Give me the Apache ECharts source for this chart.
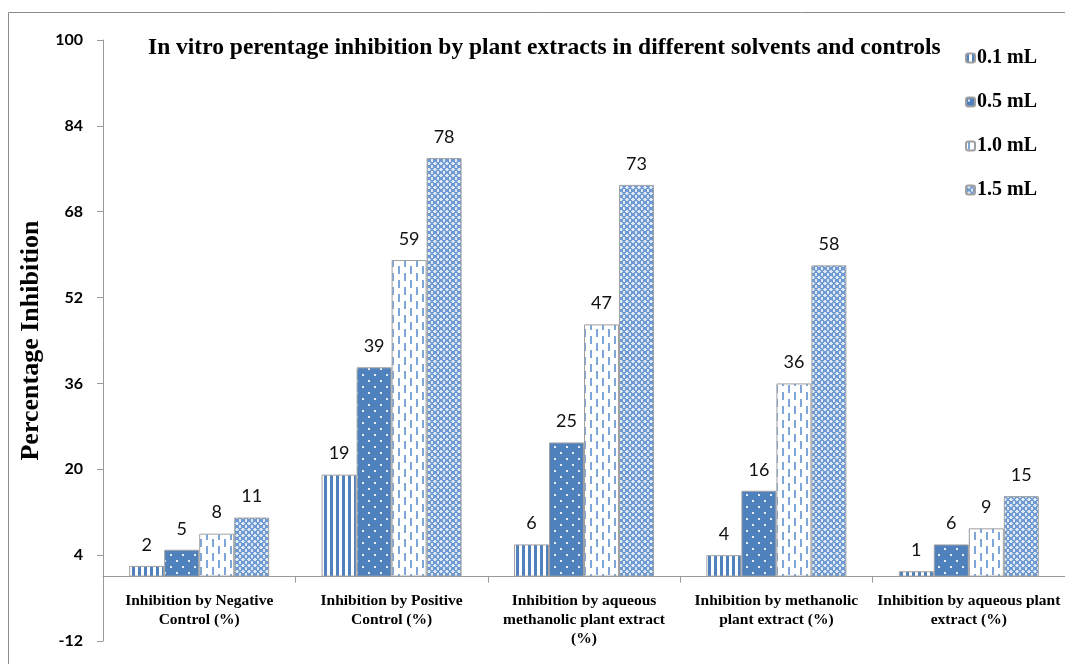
<!DOCTYPE html>
<html>
<head>
<meta charset="utf-8">
<script src="https://cdn.jsdelivr.net/npm/echarts@6/dist/echarts.min.js"></script>
<style>
  html, body { margin: 0; padding: 0; background: #fff; }
  #chart { width: 1065px; height: 664px; }
</style>
</head>
<body>
<div id="chart"></div>
<script>
var categories = [
  'Inhibition by Negative\nControl (%)',
  'Inhibition by Positive\nControl (%)',
  'Inhibition by aqueous\nmethanolic plant extract\n(%)',
  'Inhibition by methanolic\nplant extract (%)',
  'Inhibition by aqueous plant\nextract (%)'
];
var seriesNames = ['0.1 mL', '0.5 mL', '1.0 mL', '1.5 mL'];
var vol01 = [2, 19, 6, 4, 1];
var vol05 = [5, 39, 25, 16, 6];
var vol10 = [8, 59, 47, 36, 9];
var vol15 = [11, 78, 73, 58, 15];
var yTicks = [-12, 4, 20, 36, 52, 68, 84, 100];

// little canvas tiles for the fill patterns
function tile(w, h, draw) {
  var c = document.createElement('canvas');
  c.width = w; c.height = h;
  var ctx = c.getContext('2d');
  draw(ctx);
  return { image: c, repeat: 'repeat' };
}
var blue = '#4f81bd';
var pStripes = tile(6, 6, function (ctx) {
  ctx.fillStyle = '#fff'; ctx.fillRect(0, 0, 6, 6);
  ctx.fillStyle = blue; ctx.fillRect(0, 0, 3, 6);
});
var pDots = tile(12, 12, function (ctx) {
  ctx.fillStyle = blue; ctx.fillRect(0, 0, 12, 12);
  ctx.fillStyle = '#e8eef8';
  ctx.fillRect(2, 2, 2, 2);
  ctx.fillRect(8, 8, 2, 2);
});
var pDashes = tile(12, 14, function (ctx) {
  ctx.fillStyle = '#fff'; ctx.fillRect(0, 0, 12, 14);
  ctx.fillStyle = '#7ea6d8';
  ctx.fillRect(2, 0, 2, 8);
  ctx.fillRect(8, 7, 2, 7);
  ctx.fillRect(8, 0, 2, 1);
});
var pCross = tile(6, 6, function (ctx) {
  ctx.fillStyle = '#6f9bd2'; ctx.fillRect(0, 0, 6, 6);
  ctx.fillStyle = '#dfe8f5';
  ctx.fillRect(2, 0, 2, 1); ctx.fillRect(1, 1, 4, 1); ctx.fillRect(2, 2, 2, 1);
  ctx.fillRect(5, 3, 1, 1); ctx.fillRect(0, 3, 1, 1);
  ctx.fillRect(5, 4, 1, 1); ctx.fillRect(0, 4, 1, 1);
  ctx.fillRect(5, 5, 1, 1); ctx.fillRect(0, 5, 1, 1);
});
var fills = [pStripes, pDots, pDashes, pCross];
var values = [vol01, vol05, vol10, vol15];

var chart = echarts.init(document.getElementById('chart'));

var series = seriesNames.map(function (name, i) {
  return {
    name: name,
    type: 'bar',
    data: values[i],
    barWidth: 35,
    barGap: '0%',
    itemStyle: { color: fills[i], borderColor: '#a0a0a0', borderWidth: 1 },
    label: {
      show: true,
      position: 'top',
      distance: 12,
      color: '#111',
      fontFamily: 'Lato',
      fontSize: 18
    }
  };
});

var option = {
  backgroundColor: '#fff',
  animation: false,
  title: {
    text: 'In vitro perentage inhibition by plant extracts in different solvents and controls',
    left: 143,
    top: 31,
    textStyle: {
      fontFamily: '"Liberation Serif", serif',
      fontWeight: 'bold',
      fontSize: 23.5,
      color: '#000'
    }
  },
  legend: {
    orient: 'vertical',
    left: 960,
    top: 43,
    itemWidth: 9,
    itemHeight: 9,
    itemGap: 24,
    data: seriesNames,
    textStyle: {
      fontFamily: '"Liberation Serif", serif',
      fontWeight: 'bold',
      fontSize: 20,
      color: '#000',
      padding: [0, 0, 0, -3]
    }
  },
  graphic: [{
    type: 'rect',
    shape: { x: 8.5, y: 12.5, width: 1200, height: 800 },
    style: { fill: 'none', stroke: '#8a8a8a', lineWidth: 1 },
    silent: true
  }],
  grid: { left: 103, right: 0, top: 40, bottom: 23, outerBoundsMode: 'none' },
  xAxis: {
    type: 'category',
    data: categories,
    axisLine: { lineStyle: { color: '#999' } },
    axisTick: { show: true, length: 6, lineStyle: { color: '#999' } },
    axisLabel: {
      interval: 0,
      margin: -50,
      fontFamily: '"Liberation Serif", serif',
      fontWeight: 'bold',
      fontSize: 15.5,
      lineHeight: 19,
      color: '#000'
    }
  },
  yAxis: {
    type: 'value',
    min: -12,
    max: 100,
    interval: 16,
    name: 'Percentage Inhibition',
    nameLocation: 'middle',
    nameGap: 54,
    nameTextStyle: {
      fontFamily: '"Liberation Serif", serif',
      fontWeight: 'bold',
      fontSize: 26,
      color: '#000'
    },
    axisLine: { show: true, lineStyle: { color: '#999' } },
    axisTick: { show: true, length: 6, lineStyle: { color: '#999' } },
    splitLine: { show: false },
    axisLabel: {
      margin: 20,
      fontFamily: 'Lato',
      fontWeight: 'bold',
      fontSize: 16,
      color: '#000',
      customValues: yTicks
    }
  },
  series: series
};
chart.setOption(option);
</script>
</body>
</html>
